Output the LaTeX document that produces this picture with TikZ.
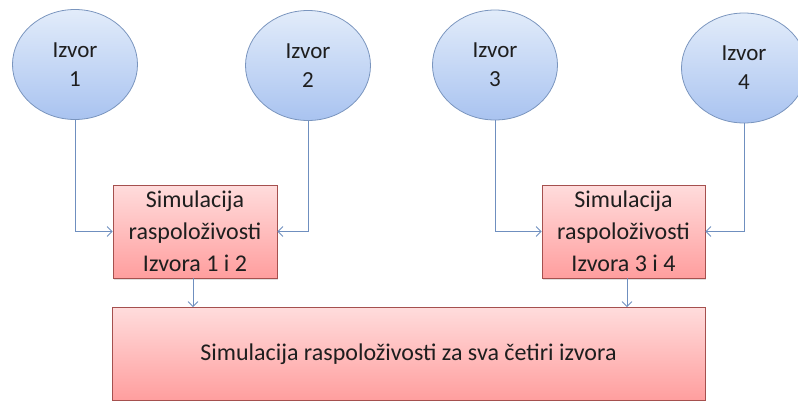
\documentclass[tikz,border=0pt]{standalone}
\usepackage{fontspec}
\setmainfont{Carlito}
\usetikzlibrary{shapes.geometric,arrows.meta,shadows}
\definecolor{circtop}{HTML}{E2ECFA}
\definecolor{circbot}{HTML}{A9C3F0}
\definecolor{circline}{HTML}{7A95BE}
\definecolor{boxtop}{HTML}{FFDCDC}
\definecolor{boxbot}{HTML}{FF9E9E}
\definecolor{boxline}{HTML}{A5504E}
\definecolor{conncol}{HTML}{6F8FBF}
\definecolor{txt}{HTML}{1E1E1E}
\tikzset{
  src/.style={ellipse, draw=circline, line width=0.8pt, top color=circtop, bottom color=circbot,
    minimum width=125pt, minimum height=110pt, inner sep=0pt, align=center,
    font=\fontsize{23}{29}\selectfont, text=txt},
  simbox/.style={rectangle, draw=boxline, line width=0.8pt, top color=boxtop, bottom color=boxbot,
    inner sep=0pt, align=center, font=\fontsize{24}{32}\selectfont, text=txt,
    drop shadow={shadow xshift=1.2pt, shadow yshift=-1.5pt, opacity=0.25}},
  conn/.style={draw=conncol, line width=0.8pt, -{Straight Barb[length=5pt,width=10pt]}}
}
\begin{document}
\begin{tikzpicture}[x=1pt,y=-1pt]
\useasboundingbox (0,0) rectangle (798,400);
\node[src] (c1) at (75,64.5) {Izvor\\1};
\node[src] (c2) at (308,65.5) {Izvor\\2};
\node[src] (c3) at (495,65) {Izvor\\3};
\node[src] (c4) at (744,68) {Izvor\\4};
\node[simbox, minimum width=164pt, minimum height=93pt] (b1) at (195,231.5) {Simulacija\\raspoloživosti\\Izvora 1 i 2};
\node[simbox, minimum width=163pt, minimum height=93pt] (b2) at (623.5,231.5) {Simulacija\\raspoloživosti\\Izvora 3 i 4};
\node[simbox, minimum width=593pt, minimum height=93pt] (bot) at (408.5,354) {Simulacija raspoloživosti za sva četiri izvora};
\draw[conn] (c1.south) |- (b1.west);
\draw[conn] (c2.south) |- (b1.east);
\draw[conn] (c3.south) |- (b2.west);
\draw[conn] (c4.south) |- (b2.east);
\draw[conn] ([xshift=-2pt]b1.south) -- ([xshift=-2pt]b1.south |- bot.north);
\draw[conn] ([xshift=3.5pt]b2.south) -- ([xshift=3.5pt]b2.south |- bot.north);
\end{tikzpicture}
\end{document}
